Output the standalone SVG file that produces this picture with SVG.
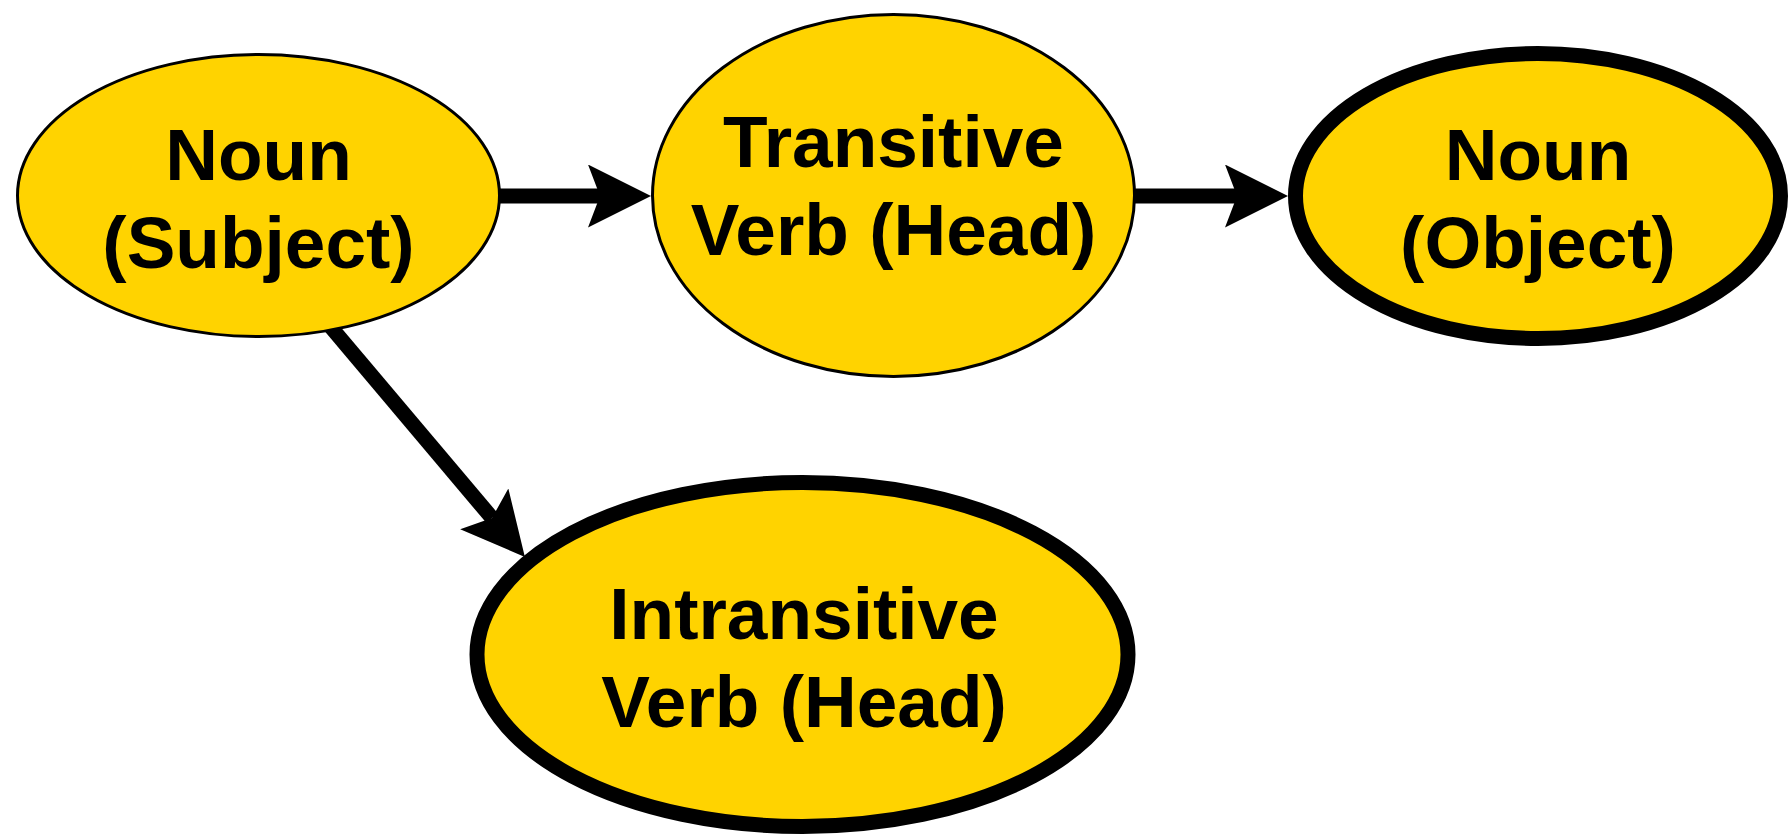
<svg xmlns="http://www.w3.org/2000/svg" width="1790" height="835" viewBox="0 0 1790 835">
<defs>
<style>
.node{fill:#FFD300;stroke:#000}
.thin{stroke-width:3}
.thick{stroke-width:15}
.lbl{font-family:"Liberation Sans",Arial,Helvetica,sans-serif;font-weight:bold;font-size:73px;fill:#000;text-anchor:middle}
.edge{stroke:#000;stroke-width:15;fill:none;marker-end:url(#arrow)}
</style>
<marker id="arrow" markerUnits="userSpaceOnUse" markerWidth="64" markerHeight="64" refX="12" refY="31.5" orient="auto" viewBox="0 0 64 64">
<path d="M0,0 L63,31.5 L0,63 L12,31.5 Z" fill="#000"/>
</marker>
</defs>
<rect width="1790" height="835" fill="#fff"/>
<g id="connectors">
<line class="edge" x1="480" y1="196" x2="600" y2="196"/>
<line class="edge" x1="1120" y1="196" x2="1237" y2="196"/>
<line class="edge" x1="330" y1="326" x2="492" y2="518"/>
</g>
<g id="noun-subject">
<ellipse class="node thin" cx="258.5" cy="195.5" rx="241" ry="141"/>
<text class="lbl" x="258.5" y="180">Noun</text>
<text class="lbl" x="258.5" y="268">(Subject)</text>
</g>
<g id="transitive-verb">
<ellipse class="node thin" cx="893.5" cy="195.5" rx="241" ry="181"/>
<text class="lbl" x="893.5" y="167">Transitive</text>
<text class="lbl" x="893.5" y="255">Verb (Head)</text>
</g>
<g id="noun-object">
<ellipse class="node thick" cx="1538" cy="196" rx="242.5" ry="142.5"/>
<text class="lbl" x="1538" y="180">Noun</text>
<text class="lbl" x="1538" y="268">(Object)</text>
</g>
<g id="intransitive-verb">
<ellipse class="node thick" cx="802.5" cy="654.5" rx="325.5" ry="172"/>
<text class="lbl" x="804" y="639">Intransitive</text>
<text class="lbl" x="804" y="727">Verb (Head)</text>
</g>
</svg>
